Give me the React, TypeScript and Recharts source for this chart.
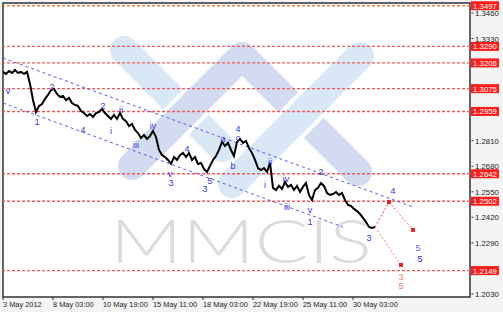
import React from "react";
import {
  ComposedChart,
  Line,
  XAxis,
  YAxis,
  ReferenceLine,
  ReferenceDot,
  Customized,
} from "recharts";

// EUR/USD 4h closes, 3 May - 30 May 2012
const PRICE = [
  1.316, 1.315, 1.3165, 1.3155, 1.317, 1.3155, 1.316, 1.315, 1.316, 1.3099,
  1.3017, 1.2956, 1.2987, 1.2997, 1.3023, 1.3043, 1.3068, 1.3073, 1.3048, 1.3033,
  1.3038, 1.3017, 1.3028, 1.3002, 1.2992, 1.2987, 1.2961, 1.2951, 1.2936, 1.2946,
  1.2931, 1.2951, 1.2956, 1.2972, 1.2951, 1.2936, 1.2921, 1.2941, 1.2921, 1.2951,
  1.2921, 1.291, 1.2885, 1.2895, 1.2865, 1.2849, 1.2824, 1.2839, 1.2819, 1.2834,
  1.286, 1.2829, 1.2763, 1.2737, 1.2727, 1.2712, 1.2692, 1.2727, 1.2712, 1.2737,
  1.2748, 1.2727, 1.2748, 1.2712, 1.2727, 1.2692, 1.2697, 1.2666, 1.2651, 1.2682,
  1.2712, 1.2732, 1.2763, 1.2804, 1.2783, 1.2799, 1.2763, 1.2732, 1.2804, 1.2819,
  1.2799, 1.2809, 1.2773, 1.2748, 1.2712, 1.2671, 1.2661, 1.2671, 1.2651, 1.2697,
  1.257, 1.2559, 1.258, 1.2564, 1.26, 1.2575, 1.2585, 1.2559, 1.258, 1.2549,
  1.2575, 1.2595, 1.2534, 1.2508, 1.2559, 1.257, 1.2595, 1.258, 1.2544, 1.2534,
  1.2539, 1.2549, 1.2534, 1.2544, 1.2508, 1.2483, 1.2478, 1.2463, 1.2452, 1.2437,
  1.2417, 1.2396, 1.2371, 1.2366, 1.2371,
];
const BAR_STEP = 3;

const TIME_TICKS = [0, 50, 100, 150, 200, 250, 300, 350];
const TIME_LABELS = [
  "3 May 2012",
  "8 May 03:00",
  "10 May 19:00",
  "15 May 11:00",
  "18 May 03:00",
  "22 May 19:00",
  "25 May 11:00",
  "30 May 03:00",
];
// ticks hidden behind the red level tags are left out
const PRICE_TICKS = [1.203, 1.229, 1.242, 1.255, 1.268, 1.281, 1.333, 1.346];
const LEVELS = [1.3497, 1.329, 1.3206, 1.3075, 1.2959, 1.2642, 1.2502, 1.2149];

const CHANNEL_UPPER = [
  { x: 0, y: 1.3231 },
  { x: 410, y: 1.2473 },
];
const CHANNEL_LOWER = [
  { x: 0, y: 1.3002 },
  { x: 340, y: 1.2371 },
];
const PROJ_UP = [
  { x: 372, y: 1.2371 },
  { x: 386, y: 1.2498 },
];
const PROJ_FROM_4 = [
  { x: 386, y: 1.2498 },
  { x: 410, y: 1.2356 },
];
const PROJ_DOWN = [
  { x: 372, y: 1.2371 },
  { x: 398, y: 1.2178 },
];

const BLUE = "#3838d8";
const WAVE_LABELS = [
  { x: 5, y: 1.3063, t: "v", c: BLUE },
  { x: 34, y: 1.2905, t: "1", c: BLUE },
  { x: 49, y: 1.3084, t: "2", c: BLUE },
  { x: 80, y: 1.2865, t: "4", c: BLUE },
  { x: 100, y: 1.2987, t: "2", c: BLUE },
  { x: 108, y: 1.286, t: "i", c: BLUE },
  { x: 118, y: 1.2967, t: "ii", c: BLUE },
  { x: 133, y: 1.2788, t: "iii", c: BLUE },
  { x: 150, y: 1.2885, t: "iv", c: BLUE },
  { x: 167, y: 1.2641, t: "v", c: BLUE },
  { x: 168, y: 1.2597, t: "3", c: BLUE },
  { x: 184, y: 1.2768, t: "4", c: BLUE },
  { x: 207, y: 1.2603, t: "5", c: BLUE },
  { x: 202, y: 1.2562, t: "3", c: BLUE },
  { x: 220, y: 1.2819, t: "a", c: BLUE },
  { x: 230, y: 1.2682, t: "b", c: BLUE },
  { x: 235, y: 1.2868, t: "4", c: BLUE },
  { x: 235, y: 1.2822, t: "c", c: BLUE },
  { x: 262, y: 1.2585, t: "i", c: BLUE },
  { x: 267, y: 1.2702, t: "ii", c: BLUE },
  { x: 283, y: 1.2615, t: "iv", c: BLUE },
  { x: 284, y: 1.2473, t: "iii", c: BLUE },
  { x: 307, y: 1.2457, t: "v", c: BLUE },
  { x: 307, y: 1.2394, t: "1", c: BLUE },
  { x: 318, y: 1.2651, t: "2", c: BLUE },
  { x: 366, y: 1.2315, t: "3", c: BLUE },
  { x: 390, y: 1.2554, t: "4", c: BLUE },
  { x: 415, y: 1.2266, t: "5", c: "#6a6ae4" },
  { x: 417, y: 1.2206, t: "5", c: "#2a2ad6" },
  { x: 398, y: 1.2119, t: "3", c: "#f08466" },
  { x: 398, y: 1.2069, t: "5", c: "#f08466" },
];

const FONT = "'Liberation Sans', Arial, sans-serif";

const TimeTick = ({ x, y, payload }: any) => {
  const i = TIME_TICKS.indexOf(payload.value);
  return (
    <g>
      <line x1={x} x2={x} y1={y} y2={y + 3} stroke="#333" />
      <text x={x} y={y + 10} fontSize={7.4} fill="#222" fontFamily={FONT}>
        {TIME_LABELS[i]}
      </text>
    </g>
  );
};

const PriceTick = ({ x, y, payload }: any) => (
  <g>
    <line x1={x + 1.5} x2={x + 3.5} y1={y} y2={y} stroke="#333" />
    <text x={x + 5} y={y + 3} fontSize={7.8} fill="#222" fontFamily={FONT}>
      {payload.value.toFixed(4)}
    </text>
  </g>
);

const LevelTag = ({ viewBox, level }: any) => {
  const lx = viewBox.x + viewBox.width + 1;
  const ly = viewBox.y;
  return (
    <g>
      <rect x={lx} y={ly - 4.5} width={28} height={9} fill="#ff1c1c" />
      <text x={lx + 14} y={ly + 3} textAnchor="middle" fontSize={7.8} fill="#fff" fontFamily={FONT}>
        {level.toFixed(4)}
      </text>
    </g>
  );
};

const ProjDot = (p: any) =>
  p.index === 0 ? <g key={p.key} /> : (
    <rect key={p.key} x={p.cx - 2} y={p.cy - 2} width={4} height={4} fill="#e42424" />
  );

// plot frame and the MMCIS watermark
const Backdrop = () => (
  <g>
    <rect x={3} y={3} width={467} height={294} fill="#fff" stroke="#333" strokeWidth={1.5} />
    <g fill="none" strokeLinecap="round" strokeLinejoin="round">
      <line x1={124} y1={50} x2={222} y2={148} stroke="#d8e8f7" strokeWidth={28} />
      <polyline points="132,166 242,56 358,172" stroke="#fff" strokeWidth={36} />
      <polyline points="132,166 242,56 358,172" stroke="#d3dbf1" strokeWidth={28} />
      <line x1={360} y1={56} x2={232} y2={184} stroke="#fff" strokeWidth={36} />
      <line x1={360} y1={56} x2={232} y2={184} stroke="#d8e8f7" strokeWidth={28} />
    </g>
    <text
      x={110}
      y={263}
      fontSize={62}
      fontWeight={300}
      fontFamily="Lato, 'Open Sans', sans-serif"
      fill="#dcdcdc"
      textLength={262}
      lengthAdjust="spacingAndGlyphs"
    >
      MMCIS
    </text>
  </g>
);

export default function App() {
  const priceData = PRICE.map((y, i) => ({ x: i * BAR_STEP, y }));
  return (
    <div style={{ position: "absolute", left: 0, top: 0, width: 503, height: 312, background: "#f4f4f4" }}>
      <ComposedChart width={503} height={312} margin={{ top: 3, right: 0, bottom: 0, left: 3 }}>
        <Customized component={Backdrop} />
        <XAxis
          type="number"
          dataKey="x"
          domain={[0, 467]}
          ticks={TIME_TICKS}
          interval={0}
          tick={(p: any) => <TimeTick {...p} />}
          tickLine={false}
          axisLine={false}
          tickSize={0}
          tickMargin={0}
          height={15}
          allowDataOverflow
        />
        <YAxis
          orientation="right"
          type="number"
          domain={[1.20147, 1.35109]}
          ticks={PRICE_TICKS}
          interval={0}
          tick={(p: any) => <PriceTick {...p} />}
          tickLine={false}
          axisLine={false}
          tickSize={0}
          tickMargin={0}
          width={33}
          allowDataOverflow
        />
        {LEVELS.map((lvl, i) => (
          <ReferenceLine
            key={lvl}
            y={lvl}
            stroke={i === 0 ? "#f07a3a" : "#f25a5a"}
            strokeDasharray="3 2"
            strokeWidth={1.4}
            label={<LevelTag level={lvl} />}
          />
        ))}
        <Line data={CHANNEL_UPPER} dataKey="y" stroke="#5a5ae6" strokeDasharray="3 3" strokeWidth={1} dot={false} isAnimationActive={false} />
        <Line data={CHANNEL_LOWER} dataKey="y" stroke="#5a5ae6" strokeDasharray="3 3" strokeWidth={1} dot={false} isAnimationActive={false} />
        <Line data={priceData} dataKey="y" stroke="#000" strokeWidth={2} dot={false} isAnimationActive={false} />
        <Line data={PROJ_UP} dataKey="y" stroke="#f04848" strokeDasharray="2 2" strokeWidth={1} dot={ProjDot} isAnimationActive={false} />
        <Line data={PROJ_FROM_4} dataKey="y" stroke="#e86262" strokeDasharray="2 2" strokeWidth={1} dot={ProjDot} isAnimationActive={false} />
        <Line data={PROJ_DOWN} dataKey="y" stroke="#ee7a62" strokeDasharray="2 2" strokeWidth={1} dot={ProjDot} isAnimationActive={false} />
        {WAVE_LABELS.map((w, i) => (
          <ReferenceDot
            key={i}
            x={w.x}
            y={w.y}
            r={1}
            ifOverflow="visible"
            shape={(p: any) => (
              <text x={p.cx} y={p.cy} textAnchor="middle" dominantBaseline="central" fontSize={9} fill={w.c} fontFamily={FONT}>
                {w.t}
              </text>
            )}
          />
        ))}
      </ComposedChart>
    </div>
  );
}
